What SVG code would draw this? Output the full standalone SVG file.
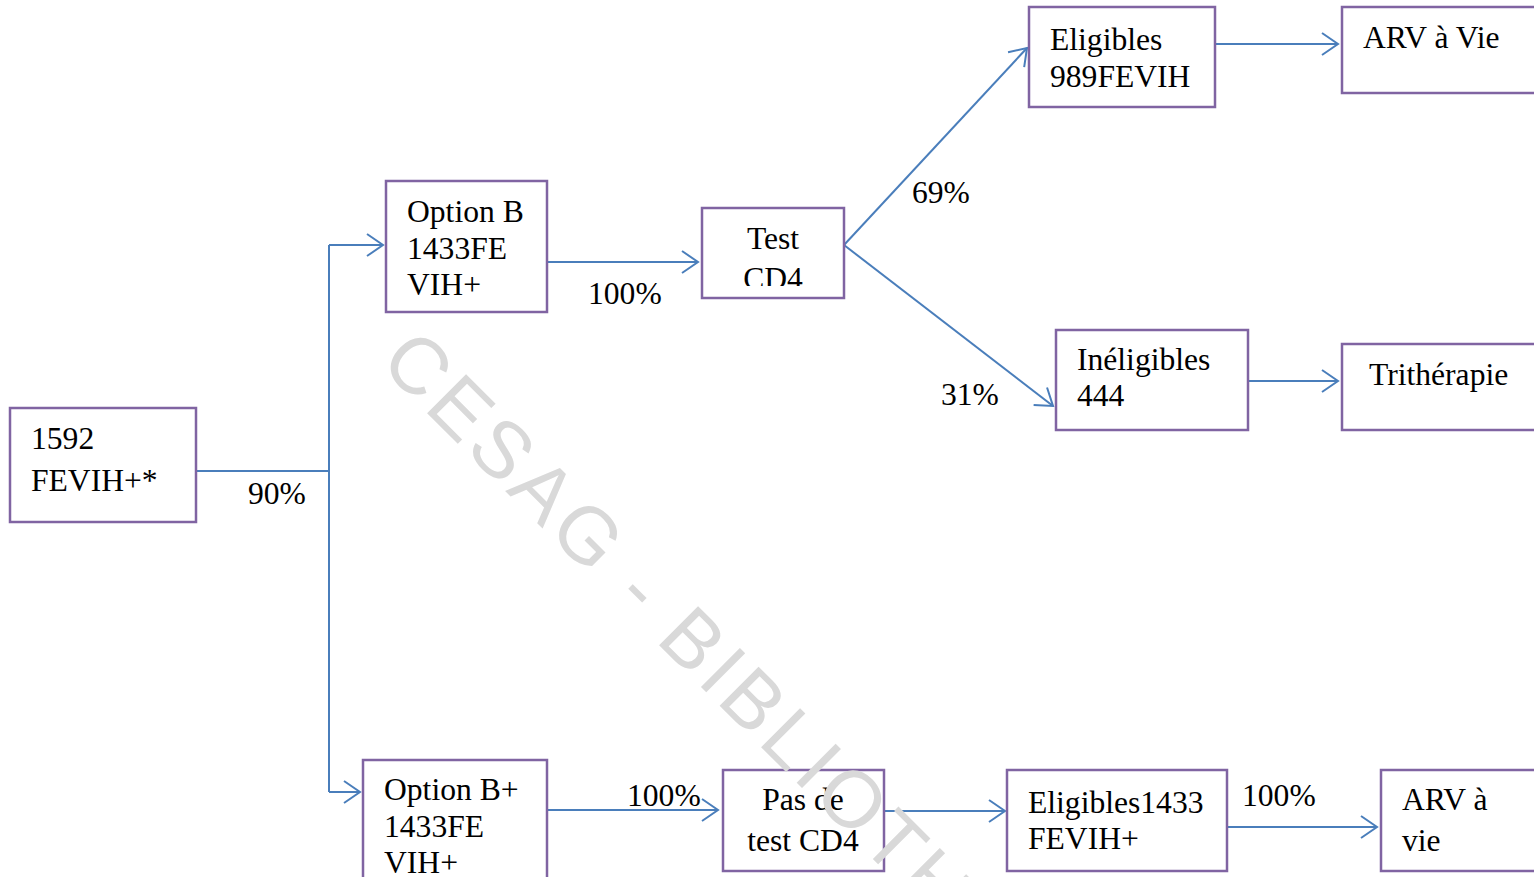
<svg xmlns="http://www.w3.org/2000/svg" width="1534" height="877" viewBox="0 0 1534 877">
<style>
.box{fill:#ffffff;stroke:#8064a2;stroke-width:2.5}
.t{font-family:"Liberation Serif","Times New Roman",serif;font-size:31.6px;fill:#000}
.c{stroke:#4a7ebb;stroke-width:2;fill:none}
.wm{font-family:"Liberation Sans",Arial,sans-serif;font-size:80px;letter-spacing:5px;fill:#d9d9d9}
</style>
<defs>
<marker id="arr" markerUnits="userSpaceOnUse" markerWidth="22" markerHeight="26" refX="18" refY="13" orient="auto">
<path d="M2,2 L18,13 L2,24" fill="none" stroke="#4a7ebb" stroke-width="2"/>
</marker>
<clipPath id="cdclip"><rect x="702" y="208" width="142" height="78"/></clipPath>
</defs>
<rect width="1534" height="877" fill="#ffffff"/>
<g id="connectors">
<polyline class="c" points="196,471 329,471"/>
<line class="c" x1="329" y1="245" x2="329" y2="792"/>
<line class="c" x1="329" y1="245" x2="383" y2="245" marker-end="url(#arr)"/>
<line class="c" x1="329" y1="792" x2="360" y2="792" marker-end="url(#arr)"/>
<line class="c" x1="547" y1="262" x2="698" y2="262" marker-end="url(#arr)"/>
<line class="c" x1="844" y1="245" x2="1027" y2="48" marker-end="url(#arr)"/>
<line class="c" x1="844" y1="245" x2="1053" y2="406" marker-end="url(#arr)"/>
<line class="c" x1="1215" y1="44" x2="1338" y2="44" marker-end="url(#arr)"/>
<line class="c" x1="1248" y1="381" x2="1338" y2="381" marker-end="url(#arr)"/>
<line class="c" x1="547" y1="810" x2="718" y2="810" marker-end="url(#arr)"/>
<line class="c" x1="884" y1="811" x2="1005" y2="811" marker-end="url(#arr)"/>
<line class="c" x1="1227" y1="827" x2="1377" y2="827" marker-end="url(#arr)"/>
<text class="t" x="248" y="504">90%</text>
<text class="t" x="588" y="304">100%</text>
<text class="t" x="912" y="203">69%</text>
<text class="t" x="941" y="405">31%</text>
<text class="t" x="627" y="806">100%</text>
<text class="t" x="1242" y="806">100%</text>
</g>
<g id="n1592"><rect class="box" x="10" y="408" width="186" height="114"/>
<text class="t" x="31" y="449">1592</text><text class="t" x="31" y="491">FEVIH+*</text></g>
<g id="optionB"><rect class="box" x="386" y="181" width="161" height="131"/>
<text class="t" x="407" y="222">Option B</text><text class="t" x="407" y="259">1433FE</text><text class="t" x="407" y="295">VIH+</text></g>
<g id="testCD4"><rect class="box" x="702" y="208" width="142" height="90"/>
<g clip-path="url(#cdclip)"><text class="t" x="773" y="249" text-anchor="middle">Test</text><text class="t" x="773" y="289" text-anchor="middle">CD4</text></g></g>
<g id="eligibles"><rect class="box" x="1029" y="7" width="186" height="100"/>
<text class="t" x="1050" y="50">Eligibles</text><text class="t" x="1050" y="87">989FEVIH</text></g>
<g id="arvVie1"><rect class="box" x="1342" y="7" width="200" height="86"/>
<text class="t" x="1363" y="48">ARV à Vie</text></g>
<g id="ineligibles"><rect class="box" x="1056" y="330" width="192" height="100"/>
<text class="t" x="1077" y="370">Inéligibles</text><text class="t" x="1077" y="406">444</text></g>
<g id="tritherapie"><rect class="box" x="1342" y="344" width="200" height="86"/>
<text class="t" x="1369" y="385">Trithérapie</text></g>
<g id="optionBplus"><rect class="box" x="363" y="760" width="184" height="130"/>
<text class="t" x="384" y="800">Option B+</text><text class="t" x="384" y="837">1433FE</text><text class="t" x="384" y="873">VIH+</text></g>
<g id="pasTest"><rect class="box" x="723" y="770" width="161" height="101"/>
<text class="t" x="803" y="810" text-anchor="middle">Pas de</text><text class="t" x="803" y="851" text-anchor="middle">test CD4</text></g>
<g id="eligibles1433"><rect class="box" x="1007" y="770" width="220" height="101"/>
<text class="t" x="1028" y="813">Eligibles1433</text><text class="t" x="1028" y="849">FEVIH+</text></g>
<g id="arvVie2"><rect class="box" x="1381" y="770" width="170" height="101"/>
<text class="t" x="1402" y="810">ARV à</text><text class="t" x="1402" y="851">vie</text></g>
<text class="wm" transform="translate(378,364) rotate(45)">CESAG - BIBLIOTHEQUE</text>
</svg>
